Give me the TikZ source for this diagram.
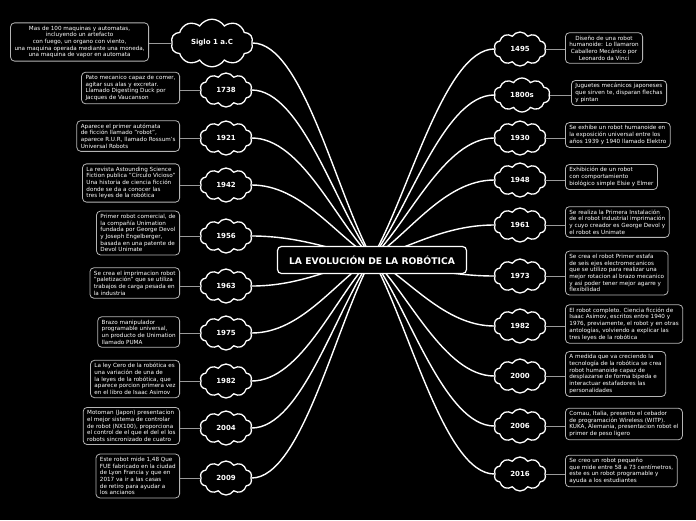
\documentclass[tikz,border=0pt]{standalone}
\usepackage{fontspec}
\setmainfont{DejaVu Sans}
\usetikzlibrary{shapes.symbols,calc}
\definecolor{boxline}{HTML}{B4B4B4}
\definecolor{thinline}{HTML}{9A9A9A}
\tikzset{
  yearcloud/.style={cloud, cloud puffs=10, cloud puff arc=115, aspect=1.5, draw=white, line width=1.3pt, fill=black,
    text=white, font=\fontsize{7}{8}\selectfont\bfseries, minimum width=52pt, minimum height=34pt, inner sep=0pt},
  infobox/.style={draw=boxline, line width=0.8pt, rounded corners=4pt, fill=black, text=white,
    font=\fontsize{5.65}{6.7}\selectfont, align=left, inner xsep=4pt, inner ysep=3pt},
  conn/.style={draw=white, line width=1.4pt},
  link/.style={draw=thinline, line width=0.8pt},
  mainbox/.style={draw=white, line width=1.2pt, rounded corners=4pt, fill=black, text=white,
    font=\fontsize{9.2}{10}\selectfont\bfseries, minimum width=189pt, minimum height=27pt}
}
\begin{document}
\begin{tikzpicture}[x=1pt,y=-1pt]
\fill[black] (0,0) rectangle (696,520);
\useasboundingbox (0,0) rectangle (696,520);

% clouds left
\node[yearcloud, minimum width=82pt, minimum height=34pt] (L0) at (212,43) {Siglo 1 a.C};
\node[yearcloud] (L1) at (226,90) {1738};
\node[yearcloud] (L2) at (226,138) {1921};
\node[yearcloud] (L3) at (226,185) {1942};
\node[yearcloud] (L4) at (226,236) {1956};
\node[yearcloud] (L5) at (226,286) {1963};
\node[yearcloud] (L6) at (226,333) {1975};
\node[yearcloud] (L7) at (226,381) {1982};
\node[yearcloud] (L8) at (226,428) {2004};
\node[yearcloud] (L9) at (226,478) {2009};

% clouds right
\node[yearcloud] (R0) at (520,49) {1495};
\node[yearcloud, minimum width=56pt] (R1) at (522,95) {1800s};
\node[yearcloud] (R2) at (520,138) {1930};
\node[yearcloud] (R3) at (520,180) {1948};
\node[yearcloud] (R4) at (520,225) {1961};
\node[yearcloud] (R5) at (520,276) {1973};
\node[yearcloud] (R6) at (520,326) {1982};
\node[yearcloud] (R7) at (520,376) {2000};
\node[yearcloud] (R8) at (520,426) {2006};
\node[yearcloud] (R9) at (520,474) {2016};

% center point
\coordinate (C) at (372,258);

% connectors
\foreach \n in {L0,L1,L2,L3,L4,L5,L6,L7,L8,L9}{
  \draw[conn] (C) .. controls ($(C)!0.3!(\n.east)$) and ($(\n.east)+(50,0)$) .. (\n.east);
}
\foreach \n in {R0,R1,R2,R3,R4,R5,R6,R7,R8,R9}{
  \draw[conn] (C) .. controls ($(C)!0.3!(\n.west)$) and ($(\n.west)+(-50,0)$) .. (\n.west);
}

\node[mainbox] (M) at (372,260) {LA EVOLUCIÓN DE LA ROBÓTICA};

% left boxes
\node[infobox, align=center, anchor=east] (B0) at (149,42) {Mas de 100 maquinas y automatas,\\incluyendo un artefacto\\con fuego, un organo con viento,\\una maquina operada mediante una moneda,\\una maquina de vapor en automata};
\node[infobox, anchor=east] (B1) at (180,88) {Pato mecanico capaz de comer,\\agitar sus alas y excretar.\\Llamado Digesting Duck por\\Jacques de Vaucanson};
\node[infobox, anchor=east] (B2) at (180,136) {Aparece el primer autómata\\de ficción llamado "robot",\\aparece R.U.R, llamado Rossum's\\Universal Robots};
\node[infobox, anchor=east] (B3) at (180,183) {La revista Astounding Science\\Fiction publica "Círculo Vicioso"\\Una historia de ciencia ficción\\donde se da a conocer las\\tres leyes de la robótica};
\node[infobox, anchor=east] (B4) at (180,233) {Primer robot comercial, de\\la compañía Unimation\\fundada por George Devol\\y Joseph Engelberger,\\basada en una patente de\\Devol Unimate};
\node[infobox, anchor=east] (B5) at (180,283) {Se crea el imprimacion robot\\"paletización" que se utiliza\\trabajos de carga pesada en\\la industria};
\node[infobox, anchor=east] (B6) at (180,332) {Brazo manipulador\\programable universal,\\un producto de Unimation\\llamado PUMA};
\node[infobox, anchor=east] (B7) at (180,379) {La ley Cero de la robótica es\\una variación de una de\\la leyes de la robótica, que\\aparece porcion primera vez\\en el libro de Isaac Asimov};
\node[infobox, anchor=east] (B8) at (180,426) {Motoman (Japon) presentacion\\el mejor sistema de controlar\\de robot (NX100), proporciona\\el control de el que el del el los\\robots sincronizado de cuatro};
\node[infobox, anchor=east] (B9) at (180,476) {Este robot mide 1,48 Que\\FUE fabricado en la ciudad\\de Lyon Francia y que en\\2017 va ir a las casas\\de retiro para ayudar a\\los ancianos};

% right boxes
\node[infobox, align=center, anchor=west] (D0) at (565,48) {Diseño de una robot\\humanoide: Lo llamaron\\Caballero Mecánico por\\Leonardo da Vinci};
\node[infobox, anchor=west] (D1) at (571,93) {Juguetes mecánicos japoneses\\que sirven te, disparan flechas\\y pintan};
\node[infobox, anchor=west] (D2) at (565,135) {Se exhibe un robot humanoide en\\la exposición universal entre los\\años 1939 y 1940 llamado Elektro};
\node[infobox, anchor=west] (D3) at (565,177) {Exhibición de un robot\\con comportamiento\\biológico simple Elsie y Elmer};
\node[infobox, anchor=west] (D4) at (565,222) {Se realiza la Primera Instalación\\de el robot industrial imprimación\\y cuyo creador es George Devol y\\el robot es Unimate};
\node[infobox, anchor=west] (D5) at (565,273) {Se crea el robot Primer estafa\\de seis ejes electromecanicos\\que se utilizo para realizar una\\mejor rotacion al brazo mecanico\\y asi poder tener mejor agarre y\\flexibilidad};
\node[infobox, anchor=west] (D6) at (565,324) {El robot completo. Ciencia ficción de\\Isaac Asimov, escritos entre 1940 y\\1976, previamente, el robot y en otras\\antologías, volviendo a explicar las\\tres leyes de la robótica};
\node[infobox, anchor=west] (D7) at (565,374) {A medida que va creciendo la\\tecnología de la robótica se crea\\robot humanoide capaz de\\desplazarse de forma bípeda e\\interactuar estafadores las\\personalidades};
\node[infobox, anchor=west] (D8) at (565,424) {Comau, Italia, presento el cebador\\de programación Wireless (WITP).\\KUKA, Alemania, presentacion robot el\\primer de peso ligero};
\node[infobox, anchor=west] (D9) at (565,471) {Se creo un robot pequeño\\que mide entre 58 a 73 centímetros,\\este es un robot programable y\\ayuda a los estudiantes};

% thin links
\foreach \i in {0,...,9}{
  \draw[link] (L\i.west) -- (L\i.west -| B\i.east);
  \draw[link] (R\i.east) -- (R\i.east -| D\i.west);
}
\end{tikzpicture}
\end{document}
